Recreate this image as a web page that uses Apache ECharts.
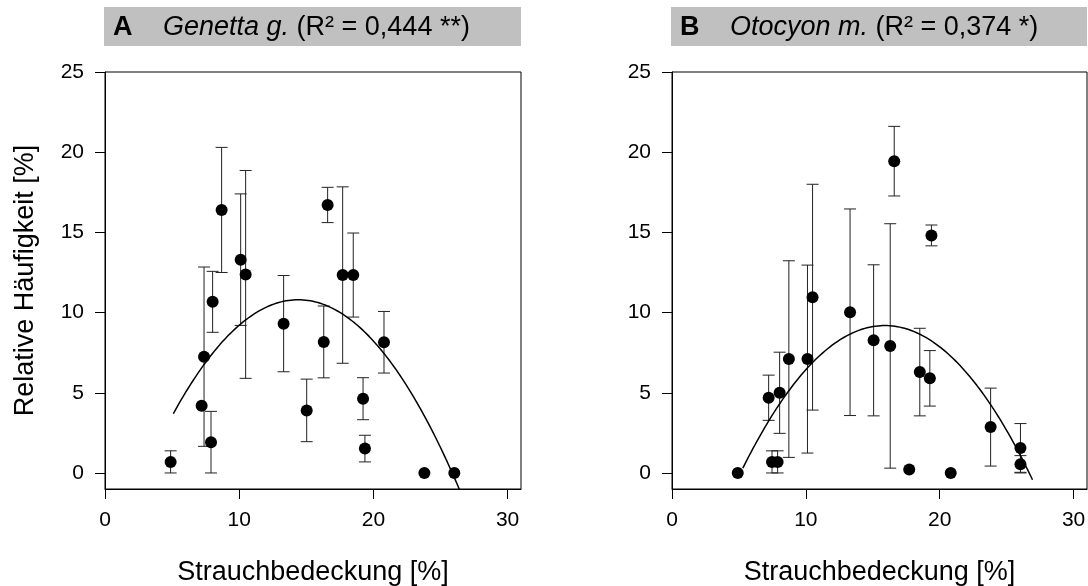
<!DOCTYPE html>
<html>
<head>
<meta charset="utf-8">
<script src="https://cdn.jsdelivr.net/npm/echarts@6/dist/echarts.min.js"></script>
<style>
html,body{margin:0;padding:0;background:#fff;}
#chart{width:1088px;height:586px;}
</style>
</head>
<body>
<div id="chart"></div>
<script>
// ---------- Data ----------
// Panel A: Genetta g.
const xA = [4.89, 7.2, 7.38, 7.9, 8.02, 8.69, 10.11, 10.48, 13.31, 15.03, 16.3, 16.59, 17.71, 18.5, 19.23, 19.37, 20.79, 23.8, 26.03];
const yA = [0.69, 4.19, 7.25, 1.92, 10.67, 16.4, 13.3, 12.38, 9.31, 3.9, 8.17, 16.71, 12.34, 12.34, 4.63, 1.52, 8.15, 0, 0];
const eA = [0.69, 0, 5.59, 1.92, 1.9, 3.9, 4.1, 6.48, 3.0, 1.95, 2.24, 1.1, 5.5, 2.62, 1.31, 0.83, 1.92, 0, 0];
// quadratic fit, vertex form [h, k, a] : y = a*(x-h)^2 + k, and fitted x range
const fitA = [14.4, 10.8, -0.082];
const fitRangeA = [5.09, 27.0];

// Panel B: Otocyon m.
const xB = [4.91, 7.22, 7.47, 7.89, 8.04, 8.73, 10.12, 10.5, 13.3, 15.06, 16.3, 16.6, 17.72, 18.51, 19.26, 19.38, 20.82, 23.8, 26.03, 26.03];
const yB = [0, 4.69, 0.69, 0.69, 5.0, 7.1, 7.1, 10.96, 10.02, 8.27, 7.92, 19.44, 0.21, 6.29, 5.9, 14.81, 0, 2.86, 1.56, 0.54];
const eB = [0, 1.41, 0.69, 0.69, 2.53, 6.13, 5.86, 7.04, 6.44, 4.71, 7.62, 2.17, 0, 2.73, 1.73, 0.65, 0, 2.43, 1.52, 0.54];
const fitB = [15.9, 9.19, -0.079];
const fitRangeB = [5.29, 26.93];

// Axis ticks / labels / titles
const xTicks = [0, 10, 20, 30];
const yTicks = [0, 5, 10, 15, 20, 25];
const xAxisTitle = 'Strauchbedeckung [%]';
const yAxisTitle = 'Relative Häufigkeit [%]';
const panelLetters = ['A', 'B'];
const panelSpecies = ['Genetta g.', 'Otocyon m.'];
const panelStats = [' (R² = 0,444 **)', ' (R² = 0,374 *)'];

// ---------- Build ----------
const FONT = 'Arial, "Liberation Sans", Helvetica, sans-serif';
const TITLE_SIZE = 27;

function pts(xs, ys) { return xs.map((x, i) => [x, ys[i]]); }
function errData(xs, ys, es) {
  const out = [];
  xs.forEach((x, i) => { if (es[i] > 0) out.push([x, ys[i] - es[i], ys[i] + es[i]]); });
  return out;
}
function fitCurve(fit, range) {
  const out = [];
  const n = 120;
  for (let i = 0; i <= n; i++) {
    const x = range[0] + (range[1] - range[0]) * i / n;
    out.push([x, fit[2] * (x - fit[0]) * (x - fit[0]) + fit[1]]);
  }
  return out;
}
function errRender(params, api) {
  const x = api.value(0);
  const lo = api.coord([x, api.value(1)]);
  const hi = api.coord([x, api.value(2)]);
  const hw = 6;
  const st = { stroke: '#222', lineWidth: 1 };
  return {
    type: 'group',
    children: [
      { type: 'line', shape: { x1: hi[0], y1: hi[1], x2: lo[0], y2: lo[1] }, style: st },
      { type: 'line', shape: { x1: hi[0] - hw, y1: hi[1], x2: hi[0] + hw, y2: hi[1] }, style: st },
      { type: 'line', shape: { x1: lo[0] - hw, y1: lo[1], x2: lo[0] + hw, y2: lo[1] }, style: st }
    ]
  };
}

const grids = [
  { left: 105, top: 72, width: 416, height: 417 },
  { left: 672, top: 72, width: 415, height: 417 }
].map(g => Object.assign(g, { show: true, borderColor: '#000', borderWidth: 1, backgroundColor: 'transparent', containLabel: false, outerBoundsMode: 'none' }));

function xAx(i) {
  return {
    type: 'value', gridIndex: i, min: 0, max: 31,
    name: xAxisTitle, nameLocation: 'middle', nameGap: 70,
    nameTextStyle: { fontFamily: FONT, fontSize: TITLE_SIZE, color: '#000' },
    axisLine: { show: true, onZero: false, lineStyle: { color: '#000', width: 1 } },
    axisTick: { show: true, inside: false, length: 10, customValues: xTicks, lineStyle: { color: '#000' } },
    axisLabel: { show: true, customValues: xTicks, margin: 21, fontFamily: FONT, fontSize: 21, color: '#000' },
    splitLine: { show: false }
  };
}
function yAx(i, withName) {
  return {
    type: 'value', gridIndex: i, min: -1, max: 25,
    name: withName ? yAxisTitle : '', nameLocation: 'middle', nameGap: 66,
    nameTextStyle: { fontFamily: FONT, fontSize: TITLE_SIZE, color: '#000' },
    axisLine: { show: true, onZero: false, lineStyle: { color: '#000', width: 1 } },
    axisTick: { show: true, inside: false, length: 10, customValues: yTicks, lineStyle: { color: '#000' } },
    axisLabel: { show: true, customValues: yTicks, margin: 21, fontFamily: FONT, fontSize: 21, color: '#000' },
    splitLine: { show: false }
  };
}

function panelSeries(i, xs, ys, es, fit, range) {
  return [
    {
      type: 'custom', xAxisIndex: i, yAxisIndex: i,
      renderItem: errRender, data: errData(xs, ys, es), z: 2, silent: true
    },
    {
      type: 'line', xAxisIndex: i, yAxisIndex: i, data: fitCurve(fit, range),
      showSymbol: false, symbol: 'none', clip: true, smooth: false,
      lineStyle: { color: '#000', width: 1.5 }, z: 3, silent: true
    },
    {
      type: 'scatter', xAxisIndex: i, yAxisIndex: i, data: pts(xs, ys),
      symbol: 'circle', symbolSize: 12, itemStyle: { color: '#000', opacity: 1 }, z: 4, silent: true
    }
  ];
}

const graphics = [];
grids.forEach((g, i) => {
  graphics.push({
    type: 'rect', left: g.left - 1, top: 7, z: 0,
    shape: { width: g.width + 1, height: 39 },
    style: { fill: '#c0c0c0' }
  });
  graphics.push({
    type: 'text', left: g.left + 8, top: 14, z: 1,
    style: { text: panelLetters[i], fontFamily: FONT, fontSize: TITLE_SIZE, fontWeight: 'bold', fill: '#000' }
  });
  graphics.push({
    type: 'text', left: g.left + 58, top: 14, z: 1,
    style: {
      text: '{it|' + panelSpecies[i] + '}{n|' + panelStats[i] + '}',
      fontFamily: FONT, fontSize: TITLE_SIZE, fill: '#000',
      rich: {
        it: { fontFamily: FONT, fontSize: TITLE_SIZE, fontStyle: 'italic', fill: '#000' },
        n: { fontFamily: FONT, fontSize: TITLE_SIZE, fill: '#000' }
      }
    }
  });
});

const chart = echarts.init(document.getElementById('chart'), null, { renderer: 'canvas' });
chart.setOption({
  backgroundColor: '#fff',
  animation: false,
  grid: grids,
  xAxis: [xAx(0), xAx(1)],
  yAxis: [yAx(0, true), yAx(1, false)],
  graphic: graphics,
  series: [].concat(
    panelSeries(0, xA, yA, eA, fitA, fitRangeA),
    panelSeries(1, xB, yB, eB, fitB, fitRangeB)
  )
});
</script>
</body>
</html>
